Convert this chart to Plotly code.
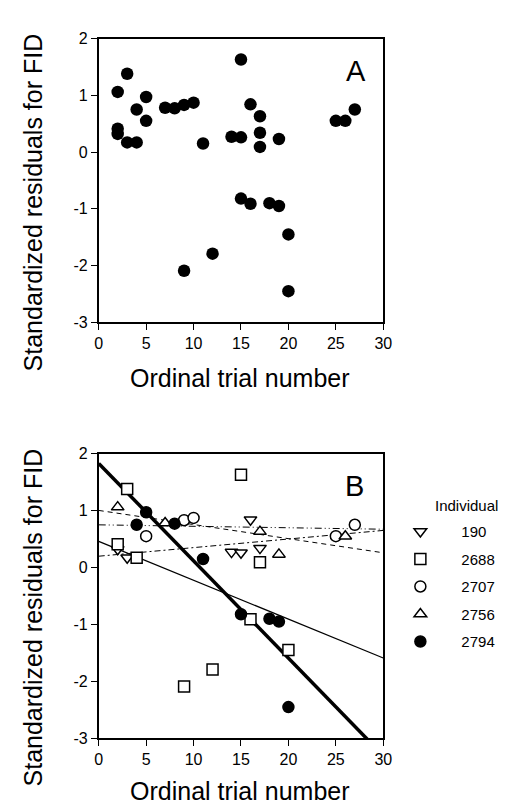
import numpy as np
import plotly.graph_objects as go

# ---------------- data ----------------
individuals = ["190", "2688", "2707", "2756", "2794"]
trial_190 = [2, 3, 14, 15, 16, 17]
resid_190 = [0.32, 0.17, 0.27, 0.26, 0.84, 0.34]
trial_2688 = [2, 3, 4, 9, 12, 15, 16, 17, 20]
resid_2688 = [0.41, 1.38, 0.17, -2.09, -1.79, 1.63, -0.91, 0.09, -1.45]
trial_2707 = [5, 9, 10, 25, 27]
resid_2707 = [0.55, 0.83, 0.87, 0.55, 0.75]
trial_2756 = [2, 7, 17, 19, 26]
resid_2756 = [1.06, 0.78, 0.63, 0.23, 0.55]
trial_2794 = [4, 5, 8, 11, 15, 18, 19, 20]
resid_2794 = [0.75, 0.97, 0.77, 0.15, -0.82, -0.90, -0.95, -2.45]

x_ticks = [0, 5, 10, 15, 20, 25, 30]
x_ticklabels = ["0", "5", "10", "15", "20", "25", "30"]
y_ticks = [-3, -2, -1, 0, 1, 2]
y_ticklabels = ["-3", "-2", "-1", "0", "1", "2"]

series = {
    "190": (trial_190, resid_190),
    "2688": (trial_2688, resid_2688),
    "2707": (trial_2707, resid_2707),
    "2756": (trial_2756, resid_2756),
    "2794": (trial_2794, resid_2794),
}

# ---------------- styles ----------------
W, H = 509, 805
FONT = "Liberation Sans, Arial, sans-serif"
marker_style = {
    "190": dict(symbol="triangle-down", color="white", size=11),
    "2688": dict(symbol="square", color="white", size=11),
    "2707": dict(symbol="circle", color="white", size=11),
    "2756": dict(symbol="triangle-up", color="white", size=11),
    "2794": dict(symbol="circle", color="black", size=11),
}
line_style = {
    "190": dict(width=1, dash="6px,3px,2px,3px"),
    "2688": dict(width=1.2, dash="solid"),
    "2707": dict(width=1, dash="7px,3px,1px,3px,1px,3px"),
    "2756": dict(width=1, dash="5px,4px"),
    "2794": dict(width=3.5, dash="solid"),
}

def px(x):
    return x / W

def py(y):
    return 1 - y / H

fig = go.Figure()

# ---- Panel A: all points ----
all_x = [v for k in individuals for v in series[k][0]]
all_y = [v for k in individuals for v in series[k][1]]
fig.add_trace(go.Scatter(
    x=all_x, y=all_y, mode="markers", xaxis="x", yaxis="y",
    marker=dict(symbol="circle", color="black", size=12.5, line=dict(width=0)),
    showlegend=False, hoverinfo="x+y"))

# ---- Panel B: regression lines ----
xgrid = np.linspace(0, 30, 61)
for k in individuals:
    xs, ys = series[k]
    slope, intercept = np.polyfit(xs, ys, 1)
    fig.add_trace(go.Scatter(
        x=xgrid, y=intercept + slope * xgrid, mode="lines",
        xaxis="x2", yaxis="y2",
        line=dict(color="black", width=line_style[k]["width"], dash=line_style[k]["dash"]),
        showlegend=False, hoverinfo="skip"))

# ---- Panel B: points ----
for i, k in enumerate(individuals):
    xs, ys = series[k]
    ms = marker_style[k]
    fig.add_trace(go.Scatter(
        x=xs, y=ys, mode="markers", name=k, xaxis="x2", yaxis="y2",
        legendgroup=k,
        marker=dict(symbol=ms["symbol"], color=ms["color"], size=ms["size"],
                    line=dict(color="black", width=1.5)),
        showlegend=True))

axis_common = dict(
    showgrid=False, zeroline=False, showline=True, linecolor="black", linewidth=1.5,
    mirror=True, ticks="outside", ticklen=6, tickwidth=1.2, tickcolor="black",
    tickfont=dict(family=FONT, size=16, color="black"),
)

xdom = [px(89), px(381)]
fig.update_layout(
    width=W, height=H,
    margin=dict(l=0, r=0, t=0, b=0),
    paper_bgcolor="white", plot_bgcolor="white",
    font=dict(family=FONT, color="black"),
    xaxis=dict(domain=xdom, anchor="y", range=[0, 30], tickvals=x_ticks, ticktext=x_ticklabels, **axis_common),
    yaxis=dict(domain=[py(313), py(23)], anchor="x", range=[-3, 2], tickvals=y_ticks, ticktext=y_ticklabels, **axis_common),
    xaxis2=dict(domain=xdom, anchor="y2", range=[0, 30], tickvals=x_ticks, ticktext=x_ticklabels, **axis_common),
    yaxis2=dict(domain=[py(738), py(447)], anchor="x2", range=[-3, 2], tickvals=y_ticks, ticktext=y_ticklabels, **axis_common),
    legend=dict(
        x=px(377), y=py(510), xanchor="left", yanchor="top",
        font=dict(family=FONT, size=15, color="black"),
        bgcolor="rgba(0,0,0,0)", borderwidth=0,
        itemwidth=72, traceorder="grouped", tracegroupgap=5,
        itemclick=False, itemdoubleclick=False,
    ),
    showlegend=True,
)

annotations = [
    dict(text="A", x=px(353), y=py(56), font=dict(size=29)),
    dict(text="B", x=px(351), y=py(480), font=dict(size=29)),
    dict(text="Individual", x=px(466), y=py(500), font=dict(size=15)),
    dict(text="Ordinal trial number", x=px(234), y=py(370), font=dict(size=25)),
    dict(text="Ordinal trial number", x=px(234), y=py(792), font=dict(size=25)),
    dict(text="Standardized residuals for FID", x=px(22), y=py(190), font=dict(size=25), textangle=-90),
    dict(text="Standardized residuals for FID", x=px(22), y=py(614), font=dict(size=25), textangle=-90),
]
for a in annotations:
    a.update(xref="paper", yref="paper", showarrow=False, xanchor="center", yanchor="middle")
    a["font"].update(family=FONT, color="black")
fig.update_layout(annotations=annotations)

fig.write_html("out.html")
